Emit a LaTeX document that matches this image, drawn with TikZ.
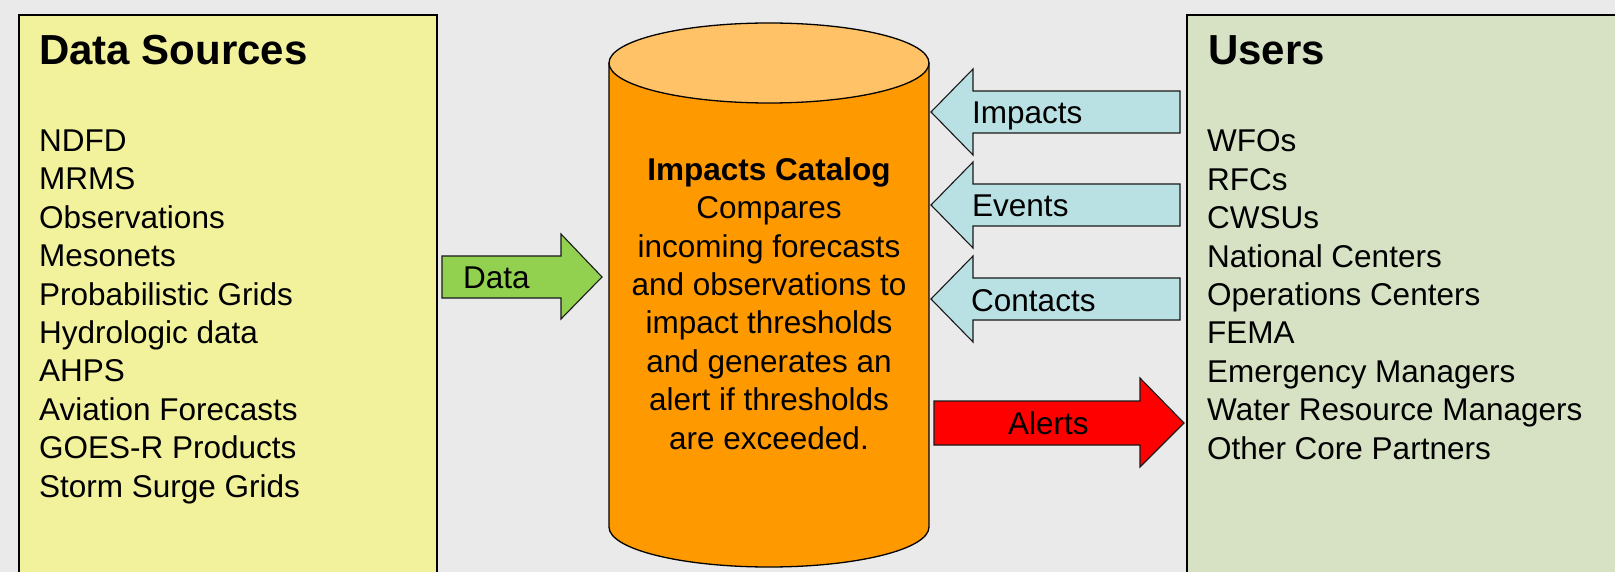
\documentclass[tikz,border=0pt]{standalone}
\usepackage{fontspec}
\setmainfont{Liberation Sans}
\definecolor{bg}{HTML}{EAEAEA}
\definecolor{srcfill}{HTML}{F2F19C}
\definecolor{userfill}{HTML}{D6E2C3}
\definecolor{cylbody}{HTML}{FF9900}
\definecolor{cyltop}{HTML}{FFC266}
\definecolor{inarrow}{HTML}{B9E0E3}
\definecolor{dataarrow}{HTML}{92D050}
\definecolor{alertarrow}{HTML}{FF0000}
\tikzset{
  panel/.style={draw=black, line width=1.5pt},
  blockarrow/.style={draw=black!90, line width=1.1pt, line join=miter},
  bodytext/.style={inner sep=0pt, font=\fontsize{31.5}{38.4}\selectfont},
  titletext/.style={inner sep=0pt, font=\fontsize{42}{50}\selectfont\bfseries},
  listtext/.style={bodytext, align=left, anchor=base west},
}
\begin{document}
\begin{tikzpicture}[x=1pt,y=-1pt]
\useasboundingbox (0,0) rectangle (1615,572);
\fill[bg] (0,0) rectangle (1615,572);
\clip (0,0) rectangle (1615,572);

% panels
\draw[panel, fill=srcfill] (19,15) rectangle (437,590);
\draw[panel, fill=userfill] (1187,15) rectangle (1630,590);

\node[titletext, anchor=base west] (srctitle) at (39,65) {Data Sources};
\node[titletext, anchor=base west] (usertitle) at (1208,65) {Users};

\node[listtext] (srclist) at (39,497) {NDFD\\MRMS\\Observations\\Mesonets\\Probabilistic Grids\\Hydrologic data\\AHPS\\Aviation Forecasts\\GOES-R Products\\Storm Surge Grids};
\node[listtext] (userlist) at (1207,459) {WFOs\\RFCs\\CWSUs\\National Centers\\Operations Centers\\FEMA\\Emergency Managers\\Water Resource Managers\\Other Core Partners};

% cylinder
\fill[cylbody] (609,63) rectangle (929,527);
\fill[cylbody] (769,527) ellipse[x radius=160, y radius=40];
\draw[line width=1.3pt] (609,63) -- (609,527) arc[start angle=180, end angle=0, x radius=160, y radius=40] -- (929,63);
\draw[line width=1.3pt, fill=cyltop] (769,63) ellipse[x radius=160, y radius=40];

\node[bodytext, align=center, anchor=base] (catalog) at (769,449) {\textbf{Impacts Catalog}\\Compares\\incoming forecasts\\and observations to\\impact thresholds\\and generates an\\alert if thresholds\\are exceeded.};

% Data arrow
\draw[blockarrow, fill=dataarrow] (442,256) -- (561,256) -- (561,234) -- (602,277) -- (561,319) -- (561,298) -- (442,298) -- cycle;
\node[bodytext, anchor=base west] (datalbl) at (463,288) {Data};

% incoming arrows
\foreach \cy/\nm in {112/impacts, 205/events, 299/contacts}{
  \draw[blockarrow, fill=inarrow] (931,\cy) -- (973,\cy-43) -- (973,\cy-21) -- (1180,\cy-21) -- (1180,\cy+21) -- (973,\cy+21) -- (973,\cy+43) -- cycle;
}
\node[bodytext, anchor=base west] (impactslbl) at (972,124) {Impacts};
\node[bodytext, anchor=base west] (eventslbl) at (972,217) {Events};
\node[bodytext, anchor=base west] (contactslbl) at (971,311) {Contacts};

% Alerts arrow
\draw[blockarrow, fill=alertarrow] (934,401) -- (1140,401) -- (1140,378) -- (1184,423) -- (1140,467) -- (1140,445) -- (934,445) -- cycle;
\node[bodytext, anchor=base west] (alertslbl) at (1008,434) {Alerts};
\end{tikzpicture}
\end{document}
